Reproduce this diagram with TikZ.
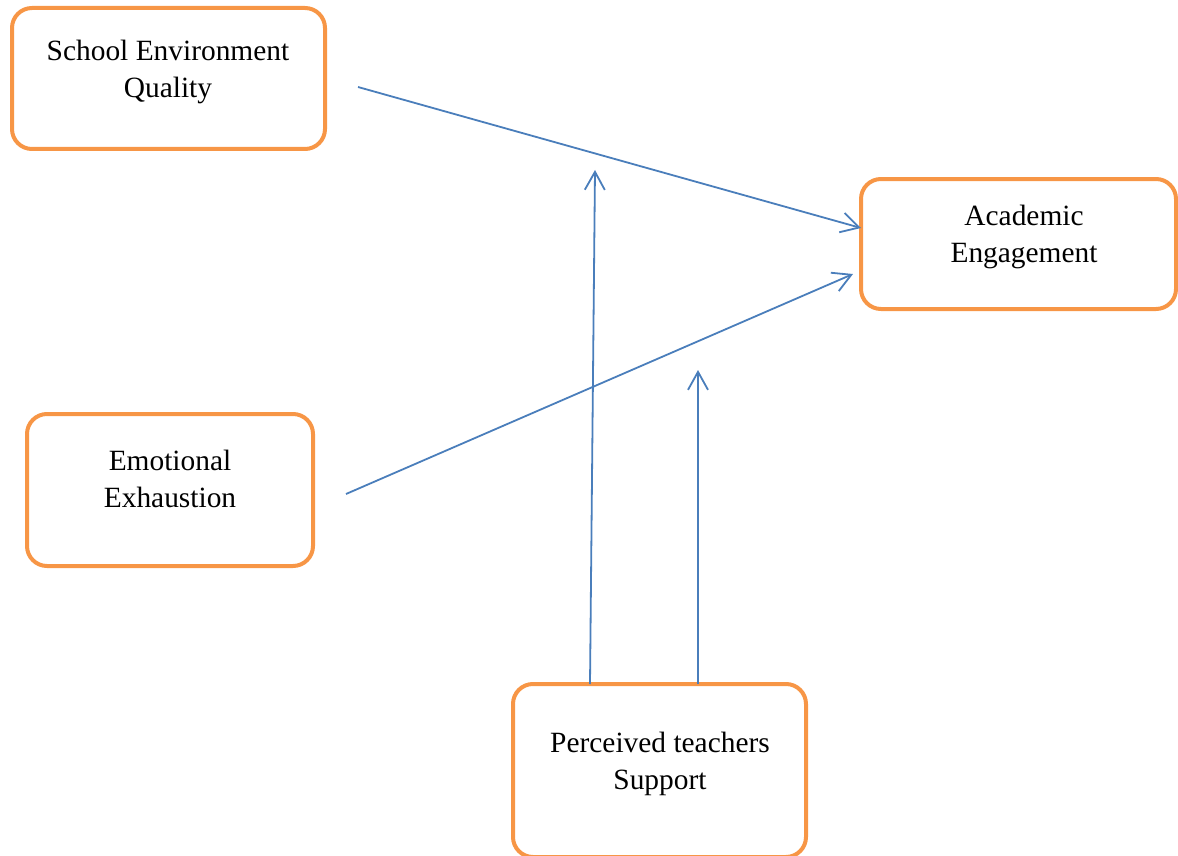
\documentclass[tikz,border=0pt]{standalone}
\usepackage{fontspec}
\setmainfont{Liberation Serif}
\usetikzlibrary{arrows.meta}

\definecolor{boxorange}{HTML}{F79646}
\definecolor{linkblue}{HTML}{4A7EBB}

\begin{document}
\begin{tikzpicture}[x=0.5pt,y=-0.5pt,
        box/.style={draw=boxorange,line width=2pt,rounded corners=10pt,
                    inner sep=0pt},
        txt/.style={align=center,font=\fontsize{14.7}{18.5}\selectfont},
        link/.style={-{Straight Barb[length=9pt,width=10pt]},
                     line width=0.9pt,linkblue}]
    
            \useasboundingbox (0,0) rectangle (1178,856);
            
            % the four boxes
            \node[box,minimum width=156.5pt,minimum height=70.5pt] (seq) at (168.5,78.5) {};
            \node[box,minimum width=157.5pt,minimum height=65pt]   (ae)  at (1018.5,244) {};
            \node[box,minimum width=143pt,minimum height=76pt]     (ee)  at (170,490) {};
            \node[box,minimum width=146.5pt,minimum height=86.5pt] (pts) at (659.5,770.5) {};
            
            \node[txt] (seqtxt) at (168,72)  {School Environment\\Quality};
            \node[txt] (aetxt)  at (1024,237) {Academic\\Engagement};
            \node[txt] (eetxt)  at (170,479)  {Emotional\\Exhaustion};
            \node[txt] (ptstxt) at (660,764)  {Perceived teachers\\Support};
            
            % free ends of the arrows
            \coordinate (seqout) at (358,87);
            \coordinate (eeout)  at (346,494);
            \coordinate (aein1)  at (861,228);
            \coordinate (aein2)  at (853,274);
            \coordinate (ptsout1) at (590,684);
            \coordinate (ptsout2) at (698,684);
            \coordinate (mod1)   at (595,170);
            \coordinate (mod2)   at (698,370);
            
            \draw[link] (seqout) -- (aein1);
            \draw[link] (eeout)  -- (aein2);
            \draw[link] (ptsout1) -- (mod1);
            \draw[link] (ptsout2) -- (mod2);
        
        \end{tikzpicture}
\end{document}
